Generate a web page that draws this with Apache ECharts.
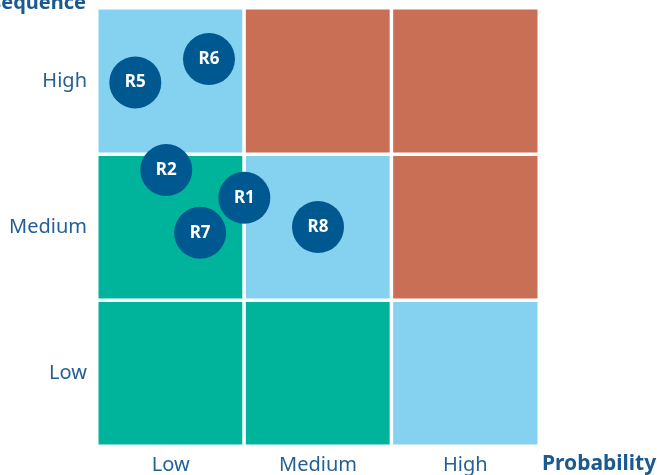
<!DOCTYPE html>
<html>
<head>
<meta charset="utf-8">
<script src="https://cdn.jsdelivr.net/npm/echarts@6/dist/echarts.min.js"></script>
<style>
  html, body { margin: 0; padding: 0; background: #fff; }
  #chart { width: 657px; height: 475px; }
</style>
</head>
<body>
<div id="chart"></div>
<script>
// axis categories
const probLevels = ['Low', 'Medium', 'High']
const consLevels = ['Low', 'Medium', 'High']

// risk rating for each cell: rows = consequence (Low -> High), cols = probability (Low -> High)
const cellRatings = [
  ['low', 'low', 'moderate'],
  ['low', 'moderate', 'severe'],
  ['moderate', 'severe', 'severe']
]

// risks placed on the matrix (0..3 along each axis)
const riskIds = ['R2', 'R7', 'R1', 'R5', 'R6', 'R8']
const riskProb = [0.47, 0.70, 1.00, 0.26, 0.76, 1.50]
const riskCons = [1.89, 1.46, 1.70, 2.49, 2.65, 1.50]

const ratingColors = { low: '#00B39B', moderate: '#84D2F0', severe: '#C86F56' }
const labelColor = '#245F96'
const font = 'Noto Sans'

const cells = []
cellRatings.forEach((row, y) => {
  row.forEach((rating, x) => {
    cells.push({ value: [x, y, 1], itemStyle: { color: ratingColors[rating] } })
  })
})

const risks = riskIds.map((id, i) => ({ name: id, value: [riskProb[i], riskCons[i]] }))

const chart = echarts.init(document.getElementById('chart'))
chart.setOption({
  animation: false,
  // labels are allowed to run past the canvas edge like in the original
  grid: { left: 97, right: 118, top: 8, bottom: 29, outerBoundsMode: 'none' },
  xAxis: [
    {
      type: 'category',
      data: probLevels,
      name: 'Probability',
      nameLocation: 'end',
      nameGap: 3,
      nameTextStyle: {
        color: '#1B5A8E', fontFamily: font, fontWeight: 'bold', fontSize: 21,
        verticalAlign: 'top', padding: [8, 0, 0, 0]
      },
      axisLine: { show: false },
      axisTick: { show: false },
      splitLine: { show: false },
      axisLabel: { color: labelColor, fontFamily: font, fontSize: 20, margin: 9 }
    },
    { type: 'value', min: 0, max: 3, show: false }
  ],
  yAxis: [
    {
      type: 'category',
      data: consLevels,
      axisLine: { show: false },
      axisTick: { show: false },
      splitLine: { show: false },
      axisLabel: { color: labelColor, fontFamily: font, fontSize: 20, margin: 10 }
    },
    { type: 'value', min: 0, max: 3, show: false }
  ],
  graphic: [{
    type: 'text',
    style: {
      x: 86, y: 13, text: 'Consequence', align: 'right', verticalAlign: 'bottom',
      fill: '#1B5A8E', font: 'bold 20px "Noto Sans"'
    }
  }],
  series: [
    {
      type: 'heatmap',
      xAxisIndex: 0,
      yAxisIndex: 0,
      data: cells,
      itemStyle: { borderColor: '#fff', borderWidth: 3.5 },
      emphasis: { disabled: true }
    },
    {
      type: 'scatter',
      xAxisIndex: 1,
      yAxisIndex: 1,
      symbolSize: 52,
      data: risks,
      itemStyle: { color: '#005891', opacity: 1 },
      label: {
        show: true, position: 'inside', formatter: '{b}',
        color: '#fff', fontFamily: font, fontSize: 17, fontWeight: 'bold'
      },
      emphasis: { disabled: true }
    }
  ]
})
</script>
</body>
</html>
